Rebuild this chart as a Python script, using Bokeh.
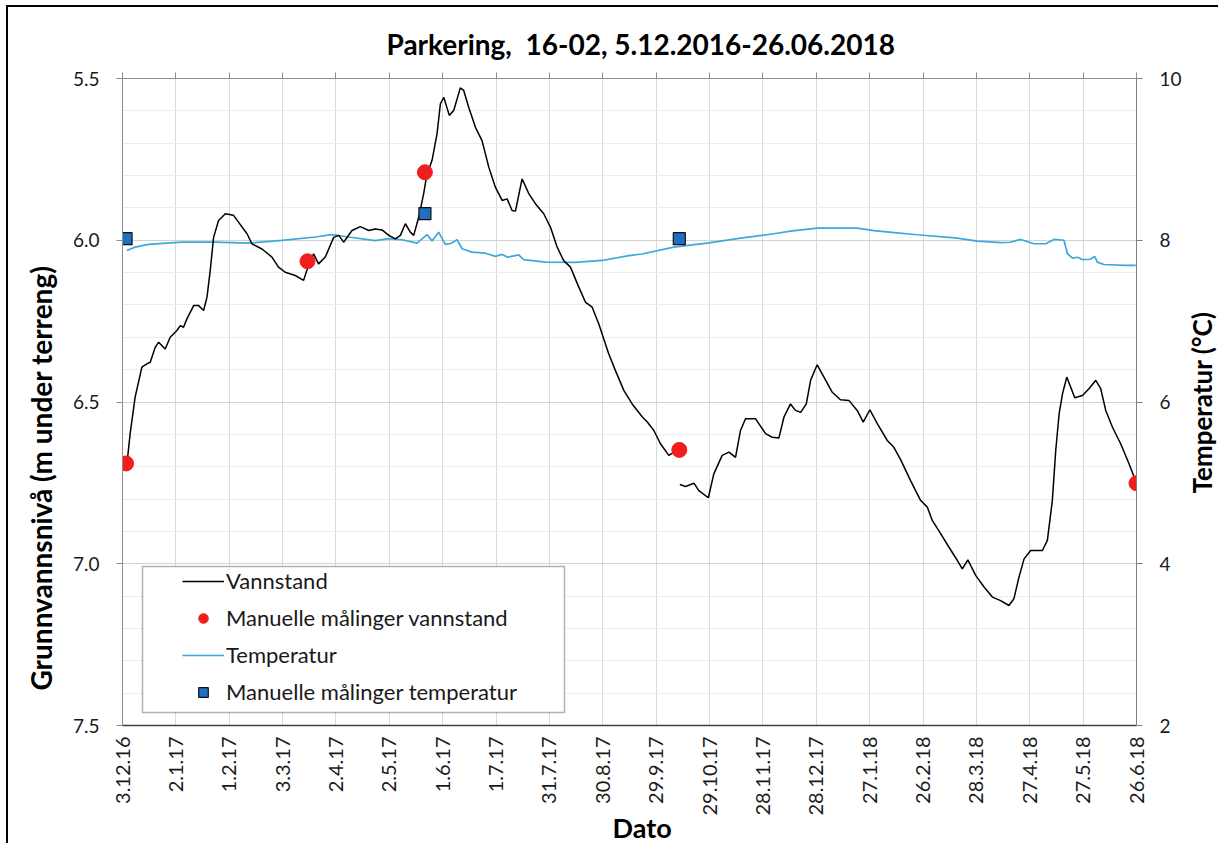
import math
from bokeh.plotting import figure
from bokeh.layouts import row
from bokeh.models import (Range1d, LinearAxis, FixedTicker, Legend, LegendItem, Title, Label,
                          BoxAnnotation, NumeralTickFormatter)
from bokeh.embed import file_html
from bokeh.resources import INLINE

# ---------------- data ----------------
TITLE = "Parkering,  16-02, 5.12.2016-26.06.2018"
X_TITLE = "Dato"
Y_TITLE = "Grunnvannsnivå (m under terreng)"
Y2_TITLE = "Temperatur (°C)"

# x values are days since 3.12.2016
tick_days = [0, 30, 60, 90, 120, 150, 180, 210, 240, 270, 300, 330, 360, 390, 420, 450, 480, 510, 540, 570]
tick_labels = ["3.12.16", "2.1.17", "1.2.17", "3.3.17", "2.4.17", "2.5.17", "1.6.17", "1.7.17",
               "31.7.17", "30.8.17", "29.9.17", "29.10.17", "28.11.17", "28.12.17", "27.1.18",
               "26.2.18", "28.3.18", "27.4.18", "27.5.18", "26.6.18"]
level_ticks = [5.5, 6.0, 6.5, 7.0, 7.5]
level_minor_ticks = [5.6, 5.7, 5.8, 5.9, 6.1, 6.2, 6.3, 6.4, 6.6, 6.7, 6.8, 6.9, 7.1, 7.2, 7.3, 7.4]
temp_ticks = [2, 4, 6, 8, 10]

NAN = float("nan")
level_day = [2.6, 4.3, 7.1, 10.9, 13.7, 15.6, 18.4, 20.3, 24.0, 26.8, 30.6, 32.5, 34.3, 36.2, 40.0,
             42.8, 45.6, 47.5, 49.3, 51.2, 54.0, 57.8, 62.4, 65.2, 70.0, 72.8, 78.4, 84.0, 87.7,
             91.5, 97.1, 101.8, 103.5, 107.4, 110.2, 114.0, 118.7, 121.6, 124.3, 129.0, 133.7,
             138.4, 142.0, 145.9, 149.7, 153.4, 156.2, 159.0, 161.8, 163.7, 166.5, 169.3, 171.0,
             174.0, 176.8, 178.7, 180.6, 183.7, 186.2, 189.9, 191.8, 194.6, 198.4, 202.1, 205.9,
             209.6, 213.4, 216.2, 219.0, 220.9, 224.6, 228.4, 232.1, 236.8, 240.6, 244.3, 248.0,
             251.8, 256.5, 260.2, 264.0, 267.7, 273.3, 277.1, 281.8, 286.5, 292.0, 295.0, 298.7,
             302.4, 307.1, 311.0, 312.0,
             313.3, 316.5, 321.2, 324.0, 329.3, 332.4, 337.1, 340.9, 344.6, 347.4, 350.2, 355.9,
             361.5, 365.2, 369.0, 371.8, 375.5, 378.3, 381.2, 384.4, 386.8, 390.5, 394.3, 399.0,
             403.6, 408.3, 413.0, 416.4, 420.1, 424.3, 429.9, 433.6, 437.4, 443.0, 448.6, 452.4,
             455.2, 459.9, 464.6, 469.3, 472.1, 475.2, 479.6, 484.3, 489.0, 493.6, 498.3, 501.1,
             503.9, 506.8, 510.5, 517.1, 519.9, 522.7, 524.6, 526.5, 528.4, 530.8, 533.0, 535.3,
             539.6, 543.3, 547.1, 549.9, 552.7, 556.5, 561.1, 565.8, 570.0]
level_m = [6.686, 6.598, 6.485, 6.392, 6.382, 6.377, 6.331, 6.315, 6.336, 6.300, 6.279, 6.264, 6.269,
           6.243, 6.202, 6.202, 6.217, 6.176, 6.094, 5.991, 5.939, 5.918, 5.923, 5.944, 5.980,
           6.011, 6.027, 6.052, 6.083, 6.099, 6.109, 6.124, 6.095, 6.042, 6.073, 6.052, 5.991,
           5.985, 6.006, 5.970, 5.958, 5.970, 5.965, 5.968, 5.985, 5.996, 5.985, 5.949, 5.975,
           5.985, 5.929, 5.856, 5.800, 5.753, 5.671, 5.578, 5.558, 5.614, 5.599, 5.529, 5.537,
           5.589, 5.651, 5.692, 5.774, 5.836, 5.877, 5.872, 5.908, 5.910, 5.810, 5.856, 5.887,
           5.918, 5.960, 6.021, 6.063, 6.083, 6.145, 6.191, 6.207, 6.258, 6.351, 6.403, 6.464,
           6.506, 6.545, 6.562, 6.588, 6.629, 6.665, 6.652, NAN,
           6.755, 6.761, 6.751, 6.774, 6.796, 6.722, 6.665, 6.655, 6.671, 6.588, 6.552, 6.552,
           6.598, 6.609, 6.611, 6.547, 6.506, 6.526, 6.532, 6.506, 6.433, 6.385, 6.423, 6.470,
           6.493, 6.495, 6.526, 6.562, 6.524, 6.567, 6.619, 6.640, 6.678, 6.743, 6.804, 6.825,
           6.866, 6.907, 6.949, 6.990, 7.016, 6.988, 7.036, 7.072, 7.103, 7.114, 7.129, 7.108,
           7.042, 6.985, 6.959, 6.959, 6.928, 6.804, 6.650, 6.537, 6.475, 6.423, 6.454, 6.487,
           6.480, 6.459, 6.433, 6.459, 6.526, 6.578, 6.629, 6.691, 6.751]

temp_day = [2.4, 7.1, 14.6, 33.4, 52.1, 70.9, 89.7, 108.4, 117.8, 127.1, 142.1, 149.6, 157.1,
            165.6, 171.2, 174.0, 177.7, 181.5, 184.5, 188.1, 190.9, 196.5, 204.0, 209.6, 213.4,
            216.5, 222.7, 225.5, 237.7, 254.6, 269.6, 284.6, 292.0, 309.9, 328.7, 347.4, 366.2,
            375.5, 390.5, 413.0, 422.4, 434.0, 446.8, 469.3, 480.5, 493.6, 499.0, 504.9, 512.4,
            519.0, 523.6, 529.2, 531.2, 534.0, 537.0, 539.6, 544.0, 546.5, 548.0, 551.7, 563.0,
            569.6]
temp_c = [7.874, 7.915, 7.948, 7.977, 7.977, 7.964, 7.998, 8.04, 8.07, 8.04, 7.995, 8.02, 8.006,
          7.964, 8.07, 7.99, 8.10, 7.948, 7.96, 8.006, 7.895, 7.853, 7.84, 7.80, 7.825, 7.79,
          7.82, 7.76, 7.73, 7.726, 7.75, 7.81, 7.83, 7.915, 7.964, 8.026, 8.08, 8.113, 8.15,
          8.15, 8.12, 8.095, 8.068, 8.026, 7.99, 7.97, 7.975, 8.01, 7.957, 7.957, 8.01, 8.0,
          7.833, 7.78, 7.79, 7.76, 7.765, 7.80, 7.73, 7.70, 7.69, 7.69]

man_level_day = [2, 104, 170, 313, 570]
man_level_m = [6.69, 6.065, 5.79, 6.648, 6.751]
man_temp_day = [2, 170, 313]
man_temp_c = [8.02, 8.33, 8.02]

# ---------------- figure ----------------
FONT = "Lato"
TXT = "#1a1a1a"

# keep the double space visible in SVG text
p = figure(title=TITLE.replace("  ", " \u00a0"), frame_width=1014, frame_height=647,
           x_range=Range1d(0, 570), y_range=Range1d(7.5, 5.5),
           output_backend="svg", toolbar_location=None,
           min_border_left=114, min_border_right=48, min_border_top=71, min_border_bottom=118,
           background_fill_color="white", border_fill_color="white", outline_line_color=None)
p.extra_y_ranges = {"temp": Range1d(2, 10)}

# title
p.title.align = "left"
p.title.offset = 264
p.title.text_font = FONT
p.title.text_font_size = "28px"
p.title.text_font_style = "bold"
p.title.text_color = "black"
p.title.standoff = 24

# grids
p.xgrid.ticker = FixedTicker(ticks=tick_days)
p.xgrid.grid_line_color = "#d9d9d9"
p.ygrid.ticker = FixedTicker(ticks=level_ticks, minor_ticks=level_minor_ticks)
p.ygrid.grid_line_color = "#d2d2d2"
p.ygrid.minor_grid_line_color = "#ececec"

# bottom axis (labels only)
xa = p.xaxis[0]
xa.ticker = FixedTicker(ticks=tick_days)
xa.major_label_overrides = {d: lab for d, lab in zip(tick_days, tick_labels)}
xa.major_label_orientation = math.pi / 2
xa.major_tick_out = 0
xa.major_tick_in = 0
xa.major_tick_line_color = None
xa.minor_tick_line_color = None
xa.axis_line_color = "#404040"
xa.axis_line_width = 1.5
xa.major_label_standoff = 11
xa.major_label_text_font = FONT
xa.major_label_text_font_size = "20px"
xa.major_label_text_color = TXT

# top axis (tick marks only)
top = LinearAxis(ticker=FixedTicker(ticks=tick_days), major_label_text_color=None,
                 major_label_text_font_size="1px", major_label_standoff=0,
                 major_tick_out=6, major_tick_in=0, minor_tick_line_color=None,
                 axis_line_color="#8c8c8c", major_tick_line_color="#8c8c8c")
p.add_layout(top, "above")

# left axis
ya = p.yaxis[0]
ya.ticker = FixedTicker(ticks=level_ticks)
ya.formatter = NumeralTickFormatter(format="0.0")
ya.major_tick_out = 6
ya.major_tick_in = 0
ya.minor_tick_line_color = None
ya.axis_line_color = "#8c8c8c"
ya.major_tick_line_color = "#8c8c8c"
ya.major_label_standoff = 17
ya.major_label_text_font = FONT
ya.major_label_text_font_size = "19px"
ya.major_label_text_color = TXT

# right axis
ra = LinearAxis(y_range_name="temp", ticker=FixedTicker(ticks=temp_ticks),
                major_tick_out=6, major_tick_in=0, minor_tick_line_color=None,
                axis_line_color="#808080", major_tick_line_color="#808080",
                major_label_standoff=17, major_label_text_font=FONT,
                major_label_text_font_size="19px", major_label_text_color=TXT)
p.add_layout(ra, "right")

# axis titles placed like the reference (offset from frame corner)
p.add_layout(Title(text=Y_TITLE, align="left", offset=35, text_font=FONT,
                   text_font_size="28px", text_font_style="bold", text_color="black",
                   standoff=24), "left")
dato = Title(text=X_TITLE, align="left", offset=490, text_font=FONT,
             text_font_size="27px", text_font_style="bold", text_color="black")
try:
    dato.standoff = -20
except Exception:
    dato.standoff = 0
p.add_layout(dato, "below")

# data
r_temp = p.line(temp_day, temp_c, y_range_name="temp", line_color="#3ea8da", line_width=1.7)
r_level = p.line(level_day, level_m, line_color="black", line_width=1.5)
r_mlev = p.scatter(man_level_day, man_level_m, marker="circle", size=15,
                   fill_color="#f21d1d", line_color="#f21d1d")
r_mtemp = p.scatter(man_temp_day, man_temp_c, y_range_name="temp", marker="square", size=12,
                    fill_color="#1f6fc2", line_color="#111111", line_width=1.2)

# legend box + legend
box = BoxAnnotation(left=20, right=442, bottom=13, top=159,
                    left_units="screen", right_units="screen",
                    bottom_units="screen", top_units="screen",
                    fill_color="white", fill_alpha=1.0, line_color="black", line_width=1.5)
p.add_layout(box)

legend = Legend(items=[LegendItem(label="Vannstand", renderers=[r_level]),
                       LegendItem(label="Manuelle målinger vannstand", renderers=[r_mlev]),
                       LegendItem(label="Temperatur", renderers=[r_temp]),
                       LegendItem(label="Manuelle målinger temperatur", renderers=[r_mtemp])],
                location=(60, 20), orientation="vertical", padding=6, spacing=10,
                label_height=24, glyph_height=24, glyph_width=42, label_standoff=2,
                label_text_font=FONT, label_text_font_size="22px", label_text_color=TXT,
                background_fill_alpha=0, border_line_color=None, margin=0)
p.add_layout(legend, "center")

# narrow strip to the right holding the secondary axis title (reads bottom-to-top)
p2 = figure(frame_width=34, frame_height=647, min_border_left=0, min_border_right=0,
            min_border_top=71, min_border_bottom=118, x_axis_location=None,
            y_axis_location=None, toolbar_location=None, output_backend="svg",
            outline_line_color=None, background_fill_color="white", border_fill_color="white")
p2.grid.visible = False
p2.add_layout(Label(x=17, y=323, x_units="screen", y_units="screen", text=Y2_TITLE,
                    angle=math.pi / 2, text_align="center", text_baseline="middle",
                    text_font=FONT, text_font_size="26px", text_font_style="bold",
                    text_color="black"))

layout = row(p, p2)
layout.styles = {"border-left": "2px solid #000000", "border-top": "2px solid #000000",
                 "margin-left": "6px", "margin-top": "5px"}

open("out.html", "w").write(file_html(layout, INLINE))
